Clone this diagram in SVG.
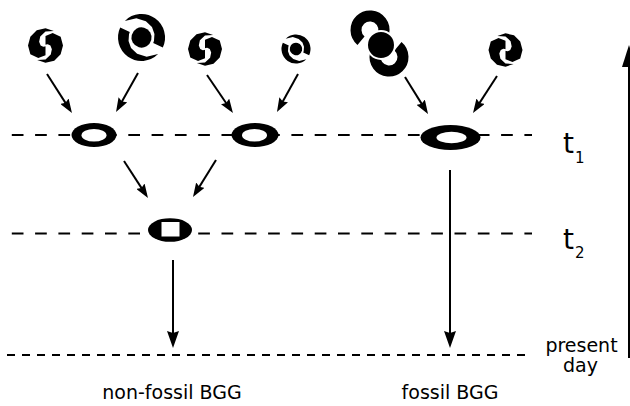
<svg xmlns="http://www.w3.org/2000/svg" xmlns:xlink="http://www.w3.org/1999/xlink" width="630" height="406" viewBox="0 0 630 406">
  <style>
    .time { fill: none; stroke: #000; stroke-width: 2; stroke-dasharray: 11.7 11.6; }
    .today { fill: none; stroke: #000; stroke-width: 2; stroke-dasharray: 8 7; }
    .edge { fill: none; stroke: #000; stroke-width: 2; marker-end: url(#head); }
    .drop { fill: none; stroke: #000; stroke-width: 2; marker-end: url(#headV); }
    .lbl { font-family: "DejaVu Sans", "Liberation Sans", sans-serif; fill: #000; }
    .ring { fill: none; stroke: #000; stroke-width: 11; }
  </style>
  <defs>
    <marker id="head" markerUnits="userSpaceOnUse" markerWidth="14" markerHeight="10" refX="10" refY="5" orient="auto">
      <path d="M0,0 L14,5 L0,10 L2,5 Z" fill="#000"/>
    </marker>
    <marker id="headV" markerUnits="userSpaceOnUse" markerWidth="17" markerHeight="12" refX="13" refY="6" orient="auto">
      <path d="M0,0 L17,6 L0,12 L2,6 Z" fill="#000"/>
    </marker>
    <!-- two-armed spiral, unit radius -->
    <polygon id="swArm" points="0,0.55 -0.41,0.71 -0.866,0.5 -1,0 -0.866,-0.5 -0.5,-0.866 0,-0.98 0.475,-0.823 0,-0.8 -0.3,-0.52 -0.364,-0.21 -0.28,0 -0.13,0.075 -0.035,0.06 0,0.04"/>
    <g id="swirl">
      <use href="#swArm"/>
      <use href="#swArm" transform="rotate(180)"/>
    </g>
    <!-- spiral with a solid core, unit radius -->
    <path id="coreArm" d="M0.985,0.174 A1 1 0 0 0 -0.866,-0.5 L-0.425,-0.736 L0,-0.72 L0.315,-0.546 L0.494,-0.285 L0.55,0 L0.542,0.096 Z"/>
    <g id="core">
      <circle r="0.43"/>
      <use href="#coreArm"/>
      <use href="#coreArm" transform="rotate(180)"/>
    </g>
  </defs>

  <rect width="630" height="406" fill="#fff"/>

  <!-- time levels -->
  <g id="levels">
    <line class="time" x1="11.8" y1="135" x2="532" y2="135"/>
    <line class="time" x1="11.8" y1="233.5" x2="532" y2="233.5"/>
    <line class="today" x1="7" y1="355" x2="532" y2="355"/>
  </g>

  <!-- connectors -->
  <g id="connectors">
    <line class="edge" x1="47" y1="74" x2="69.8" y2="109.6"/>
    <line class="edge" x1="138" y1="73" x2="118" y2="108.5"/>
    <line class="edge" x1="207" y1="75" x2="230.7" y2="109.7"/>
    <line class="edge" x1="298" y1="74" x2="278.9" y2="108.5"/>
    <line class="edge" x1="405" y1="77" x2="425.9" y2="110.6"/>
    <line class="edge" x1="497" y1="76" x2="475.2" y2="109.6"/>
    <line class="edge" x1="124" y1="161" x2="145.8" y2="194.6"/>
    <line class="edge" x1="216" y1="160" x2="195.1" y2="193.6"/>
    <line class="drop" x1="173" y1="260" x2="173" y2="344"/>
    <line class="drop" x1="450" y1="170" x2="450" y2="344"/>
  </g>

  <!-- source lineages -->
  <g id="src1"><use href="#swirl" transform="translate(45.5,45.5) scale(17.5)"/></g>
  <g id="src2"><use href="#core" transform="translate(141.5,37.5) scale(23.5) rotate(15)"/></g>
  <g id="src3"><use href="#swirl" transform="translate(205,49) scale(17)"/></g>
  <g id="src4"><use href="#core" transform="translate(296,49) scale(14.5) rotate(15)"/></g>
  <g id="src5">
    <path class="ring" d="M361,40.7 A14 14 0 1 1 377,42.1"/>
    <path class="ring" d="M398,46.3 A14 14 0 1 1 382,44.9"/>
    <circle cx="381" cy="45" r="14" fill="#000" stroke="#fff" stroke-width="2"/>
  </g>
  <g id="src6"><use href="#swirl" transform="translate(505.5,50) scale(-17,17)"/></g>

  <!-- merge nodes at t1 -->
  <g id="n1">
    <ellipse cx="94" cy="135" rx="22.5" ry="12" fill="#000"/>
    <ellipse cx="94" cy="135.3" rx="12.5" ry="6.3" fill="#fff"/>
  </g>
  <g id="n2">
    <ellipse cx="255" cy="135" rx="23.5" ry="12" fill="#000"/>
    <ellipse cx="254.5" cy="135.3" rx="12.5" ry="6.3" fill="#fff"/>
  </g>
  <g id="n3">
    <ellipse cx="450.5" cy="137.5" rx="30" ry="12.5" fill="#000"/>
    <ellipse cx="451.5" cy="137.5" rx="15" ry="5.8" fill="#fff"/>
  </g>

  <!-- merge node at t2 -->
  <g id="n4">
    <ellipse cx="170" cy="230" rx="22" ry="11.8" fill="#000"/>
    <rect x="161.5" y="222" width="18" height="14.5" fill="#fff"/>
  </g>

  <!-- time axis -->
  <g id="axis">
    <line x1="629" y1="358" x2="629" y2="66" stroke="#000" stroke-width="2"/>
    <polygon points="629,45 622,67 636,67" fill="#000"/>
  </g>

  <!-- labels -->
  <g id="labels">
    <text class="lbl" x="563" y="153" font-size="28">t</text>
    <text class="lbl" x="575" y="163" font-size="15">1</text>
    <text class="lbl" x="563" y="249" font-size="28">t</text>
    <text class="lbl" x="575" y="258" font-size="15">2</text>
    <text class="lbl" x="581.5" y="352" font-size="19" text-anchor="middle">present</text>
    <text class="lbl" x="580.5" y="372" font-size="19" text-anchor="middle">day</text>
    <text class="lbl" x="172" y="399" font-size="19" text-anchor="middle">non-fossil BGG</text>
    <text class="lbl" x="450" y="399" font-size="19" text-anchor="middle">fossil BGG</text>
  </g>
</svg>
